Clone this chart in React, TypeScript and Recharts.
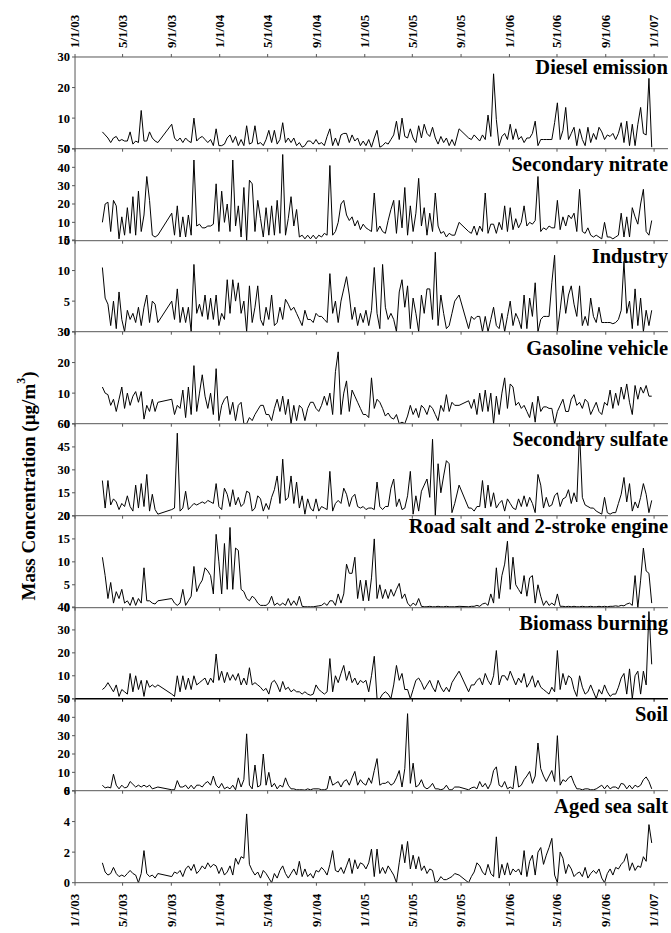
import { LineChart, Line, XAxis, YAxis } from "recharts";

// Sample days, counted from 1 Jan 2003 (gaps where no samples were taken).
const SAMPLE_DAY = [
  69, 76, 83, 90, 97, 104, 111, 118, 125, 132, 139, 146, 153, 160, 167, 174, 181, 188, 195, 202, 209,
  244, 251, 258, 265, 272, 279, 286, 293, 300, 307,
  314, 321, 328, 335, 342, 349, 356, 363, 370, 377,
  384, 391, 398, 405, 412, 419, 426, 433, 440, 447,
  454, 461, 468, 475, 482, 489, 496, 503, 510, 517,
  524, 531, 538, 545, 552, 559, 566, 573, 580, 587,
  594, 601, 608, 615, 622, 629, 636, 643, 650, 657,
  664, 671, 678, 685, 692, 699, 706, 713, 720, 727,
  734, 741, 748, 755, 762, 769, 776, 783, 790, 797,
  804, 811, 818, 825, 832, 839, 846, 853, 860, 867,
  874, 881, 888, 895, 902, 909, 916, 923, 930, 937,
  944, 951, 958,
  969,
  993, 1000, 1007, 1014, 1021, 1028, 1035, 1042, 1049, 1056,
  1063, 1070, 1077, 1084, 1091, 1098, 1105, 1112, 1119, 1126,
  1133, 1140, 1147, 1154, 1161, 1168, 1175, 1182, 1189, 1196,
  1203, 1210, 1217, 1224, 1231, 1238, 1245, 1252, 1259, 1266,
  1273, 1280, 1287, 1294, 1301, 1308, 1315, 1322, 1329, 1336,
  1343, 1350, 1357, 1364, 1371, 1378, 1385, 1392, 1399, 1406,
  1413, 1420, 1427, 1434, 1441, 1448, 1455,
];

const DATE_TICKS = [0, 120, 243, 365, 486, 609, 731, 851, 974, 1096, 1216, 1339, 1461];
const DATE_LABELS = [
  "1/1/03", "5/1/03", "9/1/03", "1/1/04", "5/1/04", "9/1/04", "1/1/05",
  "5/1/05", "9/1/05", "1/1/06", "5/1/06", "9/1/06", "1/1/07",
];

const DIESEL = [
  5.5, 4.5, 3.5, 2, 3.5, 4, 2.5, 3, 2.5, 2.5, 5.5, 1.5, 2.5, 2, 12.5, 2.5, 2.5, 5.5, 3.5, 2.5, 2,
  8, 3.5, 2.5, 3.5, 2, 3.5, 2.5, 2, 10, 2.5,
  3.5, 4, 3, 2, 3, 1, 6.5, 1, 1, 1.5,
  3.5, 4.5, 2, 4, 1, 3, 1, 7.5, 1.5, 2,
  7.5, 1.5, 2, 1, 3, 6, 2, 6, 1.5, 3,
  8.5, 2, 3.5, 2, 3.5, 1, 2, 0.5, 1, 2.5,
  2.5, 1.5, 3, 1.5, 2, 1, 4, 6.5, 1, 3.5,
  1, 4.5, 5, 5, 2, 4.5, 2.5, 3.5, 1, 2.5,
  1, 3, 0.5, 3.5, 6, 0.5, 1, 2, 1.5, 3,
  4.5, 9, 3, 10, 4, 3.5, 6.5, 3.5, 2, 7.5,
  3.5, 8, 5, 4, 7, 3.5, 1.5, 4, 2, 3.5,
  1, 3, 1,
  6.5,
  3.5, 3, 4.5, 3.5, 2.5, 4.5, 3, 11, 4, 24.5,
  9.5, 1, 4, 5, 3, 8, 3, 6.5, 3, 4,
  2, 3.5, 3.5, 5, 9, 1, 3, 3, 3, 3,
  3, 8.5, 15, 3, 6, 13.5, 3, 5, 7, 1,
  6.5, 3, 1, 7, 2, 5, 3, 7, 5.5, 3,
  4.5, 4, 5, 3, 5, 8.5, 2, 9, 1, 8,
  1, 8, 13.5, 5, 4.5, 23, 0.5,
];

const NITRATE = [
  10, 20, 21, 5, 22, 19, 1, 13, 3, 18, 4, 24, 3, 27, 5, 14, 35, 22, 3, 2, 3,
  15, 3, 19, 2, 13, 2, 14, 3, 44, 8,
  9, 7, 7, 8, 8, 9, 31, 5, 27, 10,
  20, 5, 44, 8, 19, 2, 29, 0, 33, 31,
  5, 22, 12, 2, 18, 3, 19, 3, 22, 4,
  47, 3, 12, 24, 8, 17, 2, 3, 1, 3,
  1, 3, 1, 3, 2, 4, 3, 41, 3, 5,
  10, 20, 22, 14, 11, 13, 8, 11, 6, 9,
  7, 6, 5, 26, 5, 8, 5, 4, 11, 17,
  22, 4, 22, 7, 29, 3, 19, 5, 15, 34,
  8, 18, 3, 15, 5, 26, 8, 4, 5, 2,
  4, 3, 3,
  10,
  5, 4, 8, 3, 8, 5, 26, 4, 9, 9,
  4, 10, 6, 19, 5, 18, 6, 12, 7, 10,
  19, 8, 10, 9, 11, 35, 5, 7, 6, 8,
  7, 7, 22, 6, 13, 8, 14, 12, 15, 5,
  28, 5, 4, 7, 3, 2, 3, 2, 1, 10,
  2, 2, 1, 2, 3, 15, 2, 13, 2, 18,
  13, 9, 20, 28, 5, 3, 11,
];

const INDUSTRY = [
  10.5, 5.5, 4.5, 1, 5, 0.5, 6.5, 2, 0, 3.5, 2, 3, 1.5, 4, 1, 4, 6, 1.5, 5, 4.5, 1.5,
  5, 2, 7, 1.5, 4, 1.5, 4, 0, 11, 3,
  4.5, 2.5, 6, 2, 5.5, 2, 6, 1, 3, 2,
  8.5, 3, 8.5, 5, 8, 3, 5, 0, 7.5, 1.5,
  4, 7.5, 2, 1, 4, 2, 6, 1, 1.5, 4,
  2, 5.3, 4.5, 3.5, 4, 3, 2, 1, 3.5, 2,
  2, 1.5, 3, 2.5, 2.5, 2, 1.5, 9.5, 3, 5,
  1.5, 5, 7, 9, 6, 2, 4, 1, 3, 1.5,
  3.5, 1, 3.5, 10.5, 3, 0.5, 11, 4, 2, 3,
  2, 0, 6.5, 8.5, 4, 7.5, 0.5, 5.5, 3, 0,
  6, 3, 7, 7, 2, 13, 1, 6, 3, 0.5,
  1, 3, 5,
  6,
  0.5, 2.5, 2, 2.5, 2.5, 0, 2.5, 0, 2, 4,
  1, 0.5, 3, 0, 2.5, 5, 1, 3, 2, 0.5,
  6, 0.5, 5.5, 2.5, 8, 0, 2, 2.5, 2.5, 2.5,
  8, 12.5, 0, 3.5, 7.5, 3, 6, 7.5, 4.5, 2.5,
  7.5, 1, 2.5, 1, 5.5, 2.5, 1.5, 4, 1.5, 1.5,
  1.5, 1.5, 1.3, 1.5, 2, 3.5, 11.5, 3, 5, 0.5,
  7, 1, 5.5, 0, 3.5, 1, 3.5,
];

const GASOLINE = [
  12, 10, 9.5, 6, 8, 4, 8, 12, 5, 10, 6, 9, 10.5, 7, 10.5, 1.5, 6, 4, 8, 4, 7,
  8, 3, 6, 5, 11, 2, 12, 3, 19, 4,
  10, 16, 9, 5, 10, 3, 18, 1, 6, 8,
  9, 3, 7, 1, 6, 7, 0, 0, 2, 1,
  3, 4.5, 6, 6, 3, 3, 1, 5, 8, 4,
  9, 3, 8, 0, 6, 1, 6, 5, 1, 5,
  7, 7, 5, 4, 6, 9, 6, 10, 3, 17,
  23.5, 3, 10, 14, 4, 11, 9, 7, 5, 3,
  3, 2, 15, 5, 8, 7, 5, 2.5, 3.5, 2,
  1.5, 3, 0, 0.5, 0, 2.5, 6, 3, 5, 2,
  6, 5, 3, 6, 5, 3, 1, 6, 4, 9.5,
  4, 7, 6,
  6,
  7.5, 5, 8, 3, 10, 4, 11, 4, 10, 0,
  9, 3, 10, 15, 5, 13, 12, 6, 7, 5,
  6, 4, 2, 7, 0.5, 9, 4, 5.5, 5.5, 5,
  5, 0, 4, 6, 8, 4, 4, 8, 9.5, 6,
  7, 5, 8, 7, 3, 5, 7, 4, 3, 7,
  6, 11, 5, 10, 6, 12, 8, 13, 7, 3,
  12.5, 8, 12, 10, 12.5, 9, 9,
];

const SULFATE = [
  23, 5, 23, 7, 11, 9, 4, 8, 6, 13, 6, 3, 20, 5, 21, 6, 27, 3, 14, 4, 1,
  4, 5, 54, 3, 5, 16, 4, 6, 8, 7,
  8, 9, 8, 10, 9, 8, 21, 6, 4, 18,
  14, 6, 17, 7, 12, 6, 8, 16, 15, 3,
  5, 13, 11, 3, 8, 4, 12, 17, 26, 8,
  37, 10, 12, 26, 8, 22, 5, 13, 1, 11,
  5, 3, 11, 3, 6, 5, 4, 29, 3, 8,
  10, 8, 18, 14, 6, 12, 14, 6, 5, 6,
  4, 5, 5, 4, 22, 6, 4, 6, 6, 18,
  24, 6, 11, 4, 5, 13, 29, 1, 13, 3,
  16, 20, 24, 12, 50, 0, 34, 15, 26, 36,
  34, 2, 8,
  20,
  5, 5, 3, 6, 6, 23, 5, 20, 6, 15,
  5, 8, 10, 3, 11, 8, 5, 4, 11, 6,
  13, 6, 12, 8, 2, 27, 20, 5, 12, 6,
  7, 13, 15, 6, 11, 12, 17, 8, 15, 9,
  55, 12, 7, 6, 5, 5, 3, 2, 1, 12,
  2, 1, 2, 2, 8, 14, 25, 9, 21, 3,
  9, 5, 12, 21, 14, 2, 10,
];

const ROAD_SALT = [
  11, 7, 2, 5.5, 1, 3.5, 2, 4, 1, 1.5, 0.5, 2.3, 0.5, 2, 1, 8.7, 1.5, 1.5, 1, 0.8, 1.5,
  2, 1, 0.5, 1, 4, 0.5, 1.5, 2.5, 9, 3.5,
  5, 6, 8.7, 8, 7, 3, 16, 10, 3, 14,
  4, 17.5, 4, 13, 12.5, 4, 3.5, 2, 1.5, 2.5,
  2, 1, 0.5, 0.5, 0.5, 1, 2.5, 0.5, 1, 0.5,
  1, 0.5, 2, 0.5, 1.5, 0.5, 2.5, 0.3, 0.2, 0.2,
  0.2, 0.2, 0.3, 0.4, 0.5, 1, 0.5, 1.5, 1.5, 0.5,
  3, 1, 3, 9.5, 7.5, 7.5, 11, 2, 6, 1.5,
  6, 1.5, 6.5, 15, 2, 5, 2, 4, 2, 4,
  2.5, 4, 5.3, 2, 3, 1, 0.3, 1, 0.5, 2,
  0.3, 0.2, 0.2, 0.3, 0.2, 0.2, 0.3, 0.2, 0.2, 0.3,
  0.2, 0.2, 0.2,
  0.3,
  0.2, 0.3, 0.3, 0.5, 0.3, 0.8, 1, 0.5, 3, 1,
  8.7, 2, 7, 9.5, 14.5, 4, 11, 5, 4, 3,
  7, 2.5, 6.5, 7, 1, 5, 2.5, 0.5, 1.5, 0.5,
  1, 0.5, 3, 0.3, 0.3, 0.2, 0.3, 0.2, 0.3, 0.2,
  0.2, 0.3, 0.2, 0.2, 0.3, 0.2, 0.2, 0.3, 0.2, 0.3,
  0.2, 0.3, 0.3, 0.4, 0.3, 0.5, 0.4, 0.8, 1, 0.5,
  7, 0, 6, 13, 8, 7.5, 1,
];

const BIOMASS = [
  4, 5, 7, 5, 3, 6, 1, 4, 3, 2, 11, 3, 10, 4, 8, 1, 8, 5, 6, 5, 6,
  2, 1, 10, 3, 10, 4, 9, 4, 10, 6,
  7, 8, 9, 6, 9, 7, 19.5, 8, 12, 7,
  11.5, 8, 10.5, 8, 11, 6, 9, 6, 13.5, 6,
  7, 6, 5, 3.5, 4.5, 2, 7, 8, 6, 3,
  7.5, 4, 5, 3, 4, 3, 3, 2, 3, 2,
  1.5, 2, 6, 4, 3, 2, 3, 17.5, 3, 10,
  7, 11, 14.5, 8, 12, 7, 9, 6, 8, 7,
  8, 3, 10, 18.5, 0, 0, 2, 3, 2, 0,
  6, 14.5, 8, 11, 4, 4, 0, 4, 8, 9,
  7, 4, 6, 8, 5, 3, 8, 5, 3, 5,
  3, 7, 9,
  12,
  3, 6, 6, 8, 9, 6, 11, 8, 6, 10,
  21, 6, 10, 10, 8, 12, 9, 6, 9, 7,
  11, 5, 7, 10, 5, 8, 5, 4, 3, 2,
  5, 3, 21, 4, 11, 6, 10, 9, 4, 1,
  10, 5, 2, 3, 6, 3, 0, 4, 2, 6,
  3, 1, 2, 2, 5, 9, 11, 2, 13, 0,
  10, 12, 2, 12, 6, 38, 15,
];

const SOIL = [
  3, 1.5, 2, 1.5, 9, 3, 1, 3, 1.5, 2, 5, 3.5, 2, 3, 2, 3, 2, 3, 1, 1.5, 2,
  0.5, 0.5, 5.5, 2, 2, 3, 1, 3, 1, 3,
  3, 2, 4, 5, 3, 8, 3, 1.5, 4, 1,
  2, 1, 3, 0.5, 7, 2, 6, 31, 3, 1,
  14, 2, 3, 20, 3, 10, 2, 4, 1, 3,
  2, 7, 3, 1, 1, 0.5, 0.5, 0.5, 0.3, 1,
  0.5, 1, 1, 1, 0.5, 0.5, 1, 8, 3, 4,
  5, 2, 5, 6, 3, 7, 10.5, 3, 6, 4,
  3, 7, 4, 11, 17.5, 3, 4, 4, 5, 3,
  4, 7, 11, 2, 12, 42, 4, 15, 2, 3,
  6, 2, 1, 2, 4, 1, 1, 0.5, 1, 3,
  0.5, 0.5, 2,
  2,
  0.5, 1.5, 2, 1, 5, 2, 4, 1, 4, 11,
  13, 3, 2, 5, 1, 2, 1, 13.5, 2, 3,
  6, 8, 10.5, 4, 8, 26, 12, 8, 5, 8,
  11, 5, 30, 3, 6, 5, 7, 8, 4, 1,
  1, 0.5, 1, 1, 0.5, 0.5, 1, 2, 3, 1,
  3, 1, 2, 2, 1, 4, 3.5, 1, 3, 1,
  3, 2, 3, 6, 7.5, 5, 1,
];

const SEA_SALT = [
  1.3, 0.7, 0.5, 0.6, 1.0, 0.6, 0.4, 0.5, 0.4, 0.6, 0.8, 0.6, 0.5, 0, 0.6, 2.1, 0.6, 0.4, 0.5, 0.3, 0.6,
  0.4, 0.7, 0.6, 0.8, 0.4, 0.9, 1.1, 0.8, 1.2, 0.6,
  0.8, 1.1, 0.9, 1.3, 1.0, 1.2, 1.1, 0.6, 1.0, 0.5,
  0.7, 1.1, 0.5, 1.6, 1.2, 1.7, 1.6, 4.5, 1.2, 0.8,
  0.5, 0.7, 0.3, 0.8, 0.6, 0.3, 0.0, 0.6, 0.3, 0.8,
  1.1, 0.6, 0.3, 0.6, 0.9, 0.5, 1.4, 0.4, 0.9, 0.4,
  0.6, 0.3, 0.8, 0.7, 1.0, 0.8, 0.5, 1.2, 2.1, 0.8,
  0.7, 1.0, 0.6, 1.1, 1.6, 0.6, 1.5, 0.9, 1.3, 1.2,
  0.9, 1.3, 2.2, 0.4, 2.2, 0.6, 1.0, 0.6, 1.1, 0.8,
  0.5, 0.0, 1.3, 2.5, 1.3, 2.7, 0.9, 1.8, 0.9, 1.7,
  0.8, 1.1, 0.6, 0.9, 0.8, 0.0, 0.1, 0.4, 0.2, 0.2,
  0.3, 0.4, 0.6,
  0.5,
  0.0, 0.4, 0.7, 1.3, 1.1, 0.7, 0.5, 1.2, 0.6, 0.4,
  3.0, 0.3, 1.2, 0.5, 1.3, 0.5, 0.9, 0.7, 0.9, 0.5,
  2.1, 0.4, 1.4, 1.8, 0.5, 2.0, 2.3, 1.2, 1.8, 2.3,
  2.9, 0.5, 0.0, 2.0, 1.6, 0.6, 1.2, 0.9, 0.4, 0.6,
  0.7, 0.4, 1.0, 0.3, 0.6, 0.8, 0.6, 0.9, 0.3, 0.0,
  0.6, 0.9, 0.5, 1.0, 0.9, 1.2, 1.4, 1.9, 0.8, 1.3,
  0.8, 1.1, 1.0, 1.7, 1.4, 3.8, 2.6,
];

const SOURCE_NAMES = [
  "Diesel emission",
  "Secondary nitrate",
  "Industry",
  "Gasoline vehicle",
  "Secondary sulfate",
  "Road salt and 2-stroke engine",
  "Biomass burning",
  "Soil",
  "Aged sea salt",
];
const SOURCE_VALUES = [DIESEL, NITRATE, INDUSTRY, GASOLINE, SULFATE, ROAD_SALT, BIOMASS, SOIL, SEA_SALT];
const Y_TICKS = [
  [0, 10, 20, 30],
  [0, 10, 20, 30, 40, 50],
  [0, 5, 10, 15],
  [0, 10, 20, 30],
  [0, 15, 30, 45, 60],
  [0, 5, 10, 15, 20],
  [0, 10, 20, 30, 40],
  [0, 10, 20, 30, 40, 50],
  [0, 2, 4, 6],
];

const FONT = "'Liberation Serif', 'Times New Roman', Times, serif";
const W = 671;
const H = 933;
const PLOT_LEFT = 75;
const PLOT_RIGHT = 668;
const TOP = 57;
const PANEL_H = 91.7;
const X_END = 1496;
const AXIS = "#555";

function dateLabel(v: number) {
  return DATE_LABELS[DATE_TICKS.indexOf(v)] ?? "";
}

function BottomTick(props: any) {
  const { x, y, payload } = props;
  const ay = y + 6;
  return (
    <text
      x={x}
      y={ay}
      transform={`rotate(-90 ${x} ${ay})`}
      textAnchor="end"
      dy="0.33em"
      fontFamily={FONT}
      fontWeight="bold"
      fontSize={13}
      fill="#000"
      stroke="none"
    >
      {dateLabel(payload.value)}
    </text>
  );
}

function TopTick(props: any) {
  const { x, y, payload } = props;
  const ay = y - 4;
  return (
    <text
      x={x}
      y={ay}
      transform={`rotate(-90 ${x} ${ay})`}
      textAnchor="start"
      dy="0.33em"
      fontFamily={FONT}
      fontWeight="bold"
      fontSize={13}
      fill="#000"
      stroke="none"
    >
      {dateLabel(payload.value)}
    </text>
  );
}

function NoTick() {
  return <g />;
}

function Panel({ i }: { i: number }) {
  const first = i === 0;
  const last = i === SOURCE_NAMES.length - 1;
  const padTop = first ? TOP : 8;
  const padBottom = last ? H - (TOP + PANEL_H * 9) : 8;
  const ticks = Y_TICKS[i];
  const values = SOURCE_VALUES[i];
  const data = SAMPLE_DAY.map((t, k) => ({ t, v: values[k] ?? null }));
  // the biomass/soil boundary is drawn darker in the original
  const baseStroke = i === 6 ? "#000" : AXIS;
  return (
    <div style={{ position: "absolute", left: 0, top: TOP + PANEL_H * i - padTop }}>
      <LineChart
        width={W}
        height={padTop + PANEL_H + padBottom}
        data={data}
        margin={{
          top: first ? padTop - 1 : padTop,
          bottom: padBottom - 1,
          left: PLOT_LEFT - 60,
          right: W - PLOT_RIGHT,
        }}
      >
        <XAxis
          xAxisId="b"
          type="number"
          dataKey="t"
          domain={[0, X_END]}
          ticks={DATE_TICKS}
          interval={0}
          height={1}
          tickSize={3}
          tickMargin={2}
          stroke={baseStroke}
          axisLine={{ stroke: baseStroke, strokeWidth: i === 6 ? 1.6 : 1 }}
          tick={last ? <BottomTick /> : <NoTick />}
          allowDataOverflow
        />
        {first && (
          <XAxis
            xAxisId="t"
            orientation="top"
            type="number"
            dataKey="t"
            domain={[0, X_END]}
            ticks={DATE_TICKS}
            interval={0}
            height={1}
            tickSize={3}
            tickMargin={2}
            stroke={AXIS}
            tick={<TopTick />}
            allowDataOverflow
          />
        )}
        <YAxis
          type="number"
          domain={[0, ticks[ticks.length - 1]]}
          ticks={ticks}
          interval={0}
          width={60}
          tickSize={3}
          tickMargin={2}
          stroke={AXIS}
          tick={{ fill: "#000", stroke: "none", fontSize: 12.5, fontWeight: "bold", fontFamily: FONT }}
          allowDataOverflow
        />
        <Line
          xAxisId="b"
          type="linear"
          dataKey="v"
          stroke="#000"
          strokeWidth={1}
          dot={false}
          activeDot={false}
          isAnimationActive={false}
        />
      </LineChart>
    </div>
  );
}

export default function App() {
  return (
    <div
      style={{
        position: "absolute",
        left: 0,
        top: 0,
        width: W,
        height: H,
        background: "#fff",
        fontFamily: FONT,
      }}
    >
      <svg
        width={W}
        height={H}
        style={{ position: "absolute", left: 0, top: 0, pointerEvents: "none" }}
      >
        <text
          transform="rotate(-90)"
          x={-486}
          y={28}
          textAnchor="middle"
          dominantBaseline="central"
          fontFamily={FONT}
          fontWeight="bold"
          fontSize={19}
          fill="#000"
        >
          Mass Concentration (µg/m
          <tspan dy={-7} fontSize={12}>3</tspan>
          <tspan dy={7}>)</tspan>
        </text>
        {SOURCE_NAMES.map((name, i) => (
          <text
            key={name}
            x={PLOT_RIGHT}
            y={TOP + PANEL_H * i + (i === 0 || i === 5 ? 17 : 22.5)}
            textAnchor="end"
            fontFamily={FONT}
            fontWeight="bold"
            fontSize={20.5}
            fill="#000"
          >
            {name}
          </text>
        ))}
      </svg>
      {SOURCE_NAMES.map((name, i) => (
        <Panel key={name} i={i} />
      ))}
    </div>
  );
}
